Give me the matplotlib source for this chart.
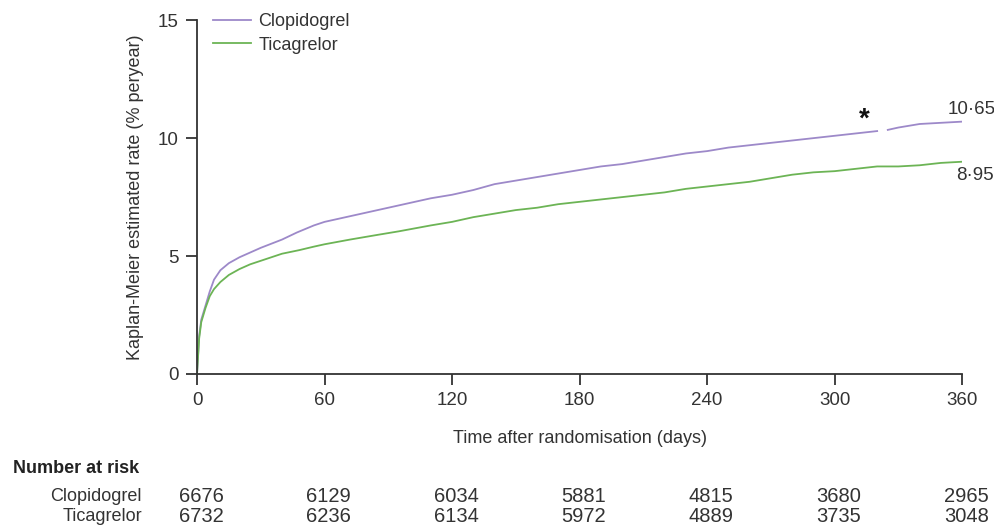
import numpy as np
import matplotlib
matplotlib.use("Agg")
import matplotlib.pyplot as plt
import matplotlib.transforms as mtransforms

plt.rcParams['font.family'] = ['Liberation Sans Narrow', 'Liberation Sans', 'DejaVu Sans']

# Kaplan-Meier curves (days, % per year)
clop_days = [0, 1, 2, 4, 6, 8, 11, 15, 20, 25, 30, 40, 47, 55, 60, 70, 80, 90, 100,
             110, 120, 130, 140, 150, 160, 170, 180, 190, 200, 210, 220, 230, 240,
             250, 260, 270, 280, 290, 300, 310, 320, 322, 325, 330, 340, 350, 360]
clop_rate = [0, 1.6, 2.3, 2.9, 3.5, 4.0, 4.4, 4.7, 4.95, 5.15, 5.35, 5.7, 6.0, 6.3,
             6.45, 6.65, 6.85, 7.05, 7.25, 7.45, 7.6, 7.8, 8.05, 8.2, 8.35, 8.5, 8.65,
             8.8, 8.9, 9.05, 9.2, 9.35, 9.45, 9.6, 9.7, 9.8, 9.9, 10.0, 10.1, 10.2,
             10.3, np.nan, 10.35, 10.45, 10.6, 10.65, 10.7]

tica_days = [0, 1, 2, 4, 6, 8, 11, 15, 20, 25, 30, 40, 48, 55, 60, 72, 85, 95, 110,
             120, 130, 140, 150, 160, 170, 180, 190, 200, 210, 220, 230, 240, 250,
             260, 270, 280, 290, 300, 310, 320, 330, 340, 350, 360]
tica_rate = [0, 1.5, 2.2, 2.8, 3.3, 3.6, 3.9, 4.2, 4.45, 4.65, 4.8, 5.1, 5.25, 5.4,
             5.5, 5.7, 5.9, 6.05, 6.3, 6.45, 6.65, 6.8, 6.95, 7.05, 7.2, 7.3, 7.4,
             7.5, 7.6, 7.7, 7.85, 7.95, 8.05, 8.15, 8.3, 8.45, 8.55, 8.6, 8.7, 8.8,
             8.8, 8.85, 8.95, 9.0]

final_clop = "10·65"
final_tica = "8·95"

risk_days = [0, 60, 120, 180, 240, 300, 360]
risk_clop = [6676, 6129, 6034, 5881, 4815, 3680, 2965]
risk_tica = [6732, 6236, 6134, 5972, 4889, 3735, 3048]

purple = '#9d89c9'
green = '#6cb455'
ink = '#333333'

fig = plt.figure(figsize=(9.95, 5.32), dpi=100)
ax = fig.add_axes([0.198, 0.297, 0.769, 0.665])

ax.plot(clop_days, clop_rate, color=purple, lw=1.3, label='Clopidogrel')
ax.plot(tica_days, tica_rate, color=green, lw=1.3, label='Ticagrelor')

ax.set_xlim(0, 360)
ax.set_ylim(0, 15)
ax.set_xticks(risk_days)
ax.set_yticks([0, 5, 10, 15])
for s in ['top', 'right']:
    ax.spines[s].set_visible(False)
for s in ['left', 'bottom']:
    ax.spines[s].set_color(ink)
    ax.spines[s].set_linewidth(1.3)
ax.tick_params(direction='out', length=8, width=1.3, color=ink,
               labelsize=13.5, labelcolor=ink, pad=5)

ax.set_xlabel('Time after randomisation (days)', fontsize=13, color=ink, labelpad=15)
ax.set_ylabel('Kaplan-Meier estimated rate (% peryear)', fontsize=13, color=ink, labelpad=10)

ax.legend(loc='upper left', bbox_to_anchor=(0.0, 1.065), frameon=False,
          fontsize=13, handlelength=2.1, handletextpad=0.4, labelspacing=0.35,
          labelcolor=ink)

ax.text(353, 11.2, final_clop, fontsize=13.5, color=ink, va='center', ha='left', clip_on=False)
ax.text(357, 8.4, final_tica, fontsize=13.5, color=ink, va='center', ha='left', clip_on=False)
ax.text(314, 10.8, '*', fontsize=20, color='#111111', va='center', ha='center', weight='bold')

# number at risk table
trans = mtransforms.blended_transform_factory(ax.transData, fig.transFigure)
fig.text(0.013, 0.12, 'Number at risk', fontsize=13, weight='bold', color='#222222',
         va='center', ha='left')
fig.text(0.1427, 0.067, 'Clopidogrel', fontsize=13, color=ink, va='center', ha='right')
fig.text(0.1427, 0.030, 'Ticagrelor', fontsize=13, color=ink, va='center', ha='right')
for d, c, t in zip(risk_days, risk_clop, risk_tica):
    ax.text(d + 2, 0.067, str(c), transform=trans, fontsize=14.5, color=ink,
            ha='center', va='center')
    ax.text(d + 2, 0.030, str(t), transform=trans, fontsize=14.5, color=ink,
            ha='center', va='center')

fig.savefig('out.png', dpi=100)
